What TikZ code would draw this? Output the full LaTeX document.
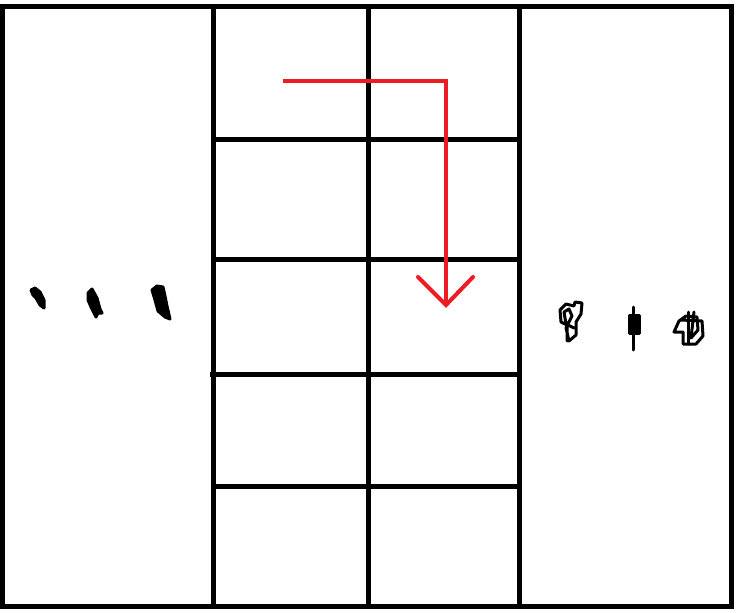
\documentclass[tikz,border=0pt]{standalone}
\usetikzlibrary{calc}

\tikzset{
  wall/.style={line width=5pt, black},
  route/.style={line width=4pt, draw={rgb,255:red,237;green,28;blue,36}},
  scrib/.style={line width=3pt, black, line join=round, line cap=round},
}

\begin{document}
\begin{tikzpicture}[x=1pt,y=-1pt]

\useasboundingbox (0,0) rectangle (739,613);

\coordinate (NW) at (2.5,6);
\coordinate (SE) at (731.5,606.5);

% outer frame and the three columns
\draw[wall] (NW) rectangle (SE);
\foreach \x in {213.5,368.5,519.5}{
	\draw[wall] (\x,6) -- (\x,606.5);
}

% rungs of the middle part
\foreach \y in {139.5,259.5,486.5}{
	\draw[wall] (213.5,\y) -- (519.5,\y);
}
\draw[wall] (210,374) -- (519.5,374);

% red route
\coordinate (start) at (283,80.5);
\coordinate (turn) at (446,80.5);
\coordinate (tip) at (446,305);
\draw[route, line join=miter] (start) -- (turn) -- (tip);
\draw[route, line cap=round] (418,277) -- (tip) -- (473,277);

% marks on the left
\filldraw[scrib] (31,290) -- (35,288) -- (40,292) -- (44,300) -- (44,308) -- (40,305) -- (36,298) -- (33,295) -- cycle;
\filldraw[scrib] (88,293) -- (92,289) -- (97,298) -- (100,309) -- (102,313) -- (98,313) -- (96,317) -- (91,307) -- (88,300) -- cycle;
\filldraw[scrib] (152,290) -- (157,286) -- (163,287) -- (165,296) -- (167,306) -- (170,319) -- (165,317) -- (158,311) -- (155,300) -- cycle;

% marks on the right
\draw[scrib] (567,341) -- (567,325) -- (561,322) -- (560,310) -- (566,304) -- (574,306)
	-- (575,302) -- (582,303) -- (581,314) -- (576,322) -- (576,335) -- (569,341)
	-- (566,328) -- (572,316) -- (569,309) -- (564,312) -- (566,324) -- (574,328);
\draw[scrib] (633,307) -- (633,350);
\filldraw[scrib] (629,315) rectangle (639,333);
\draw[scrib] (688,312) -- (688,344);
\draw[scrib] (681,320) -- (702,321) -- (703,336) -- (696,344) -- (683,344) -- (683,332) -- (674,332)
	-- (679,321) -- (686,316) -- (697,317) -- (698,330) -- (691,338) -- (694,312);

\end{tikzpicture}
\end{document}
